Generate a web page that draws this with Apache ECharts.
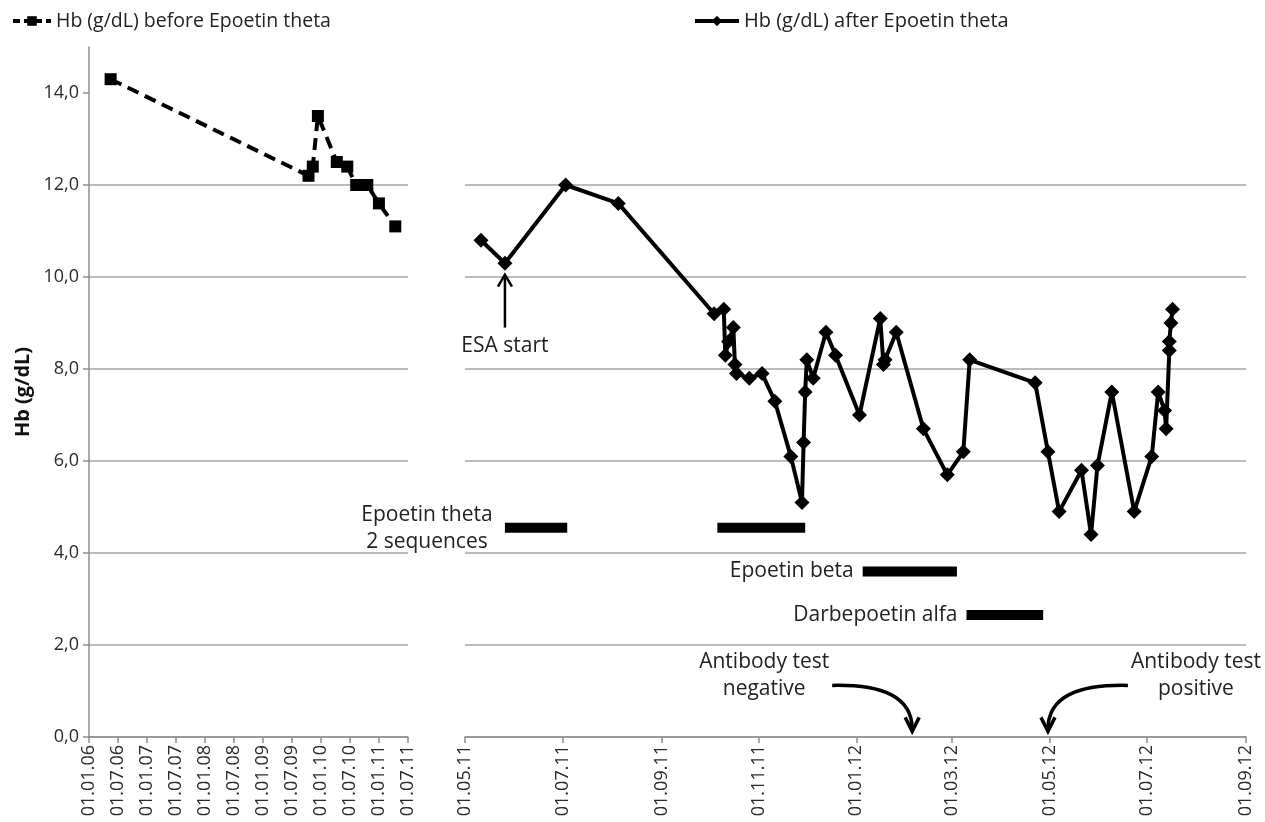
<!DOCTYPE html>
<html><head><meta charset="utf-8">
<script src="https://cdn.jsdelivr.net/npm/echarts@6/dist/echarts.min.js"></script>
<style>html,body{margin:0;padding:0;background:#fff}#c{width:1265px;height:822px}</style>
</head><body><div id="c"></div>
<script>
// ---- data ----
const beforeDates = ['2006-05-17','2009-10-13','2009-11-09','2009-12-11','2010-04-09','2010-06-14','2010-08-09','2010-10-18','2010-12-30','2011-04-12'];
const beforeHb = [14.3,12.2,12.4,13.5,12.5,12.4,12.0,12.0,11.6,11.1];

const afterDates = ['2011-05-11','2011-05-26','2011-07-03','2011-08-05','2011-10-04','2011-10-10','2011-10-11','2011-10-13','2011-10-16','2011-10-17',
  '2011-10-18','2011-10-26','2011-11-03','2011-11-11','2011-11-21','2011-11-28','2011-11-29','2011-11-30','2011-12-01','2011-12-05',
  '2011-12-13','2011-12-19','2012-01-03','2012-01-16','2012-01-18','2012-01-19','2012-01-26','2012-02-12','2012-02-27','2012-03-08',
  '2012-03-12','2012-04-22','2012-04-30','2012-05-07','2012-05-21','2012-05-27','2012-05-31','2012-06-09','2012-06-23','2012-07-04',
  '2012-07-08','2012-07-12','2012-07-13','2012-07-15','2012-07-15','2012-07-16','2012-07-17'];
const afterHb = [10.8,10.3,12.0,11.6,9.2,9.3,8.3,8.6,8.9,8.1,
  7.9,7.8,7.9,7.3,6.1,5.1,6.4,7.5,8.2,7.8,
  8.8,8.3,7.0,9.1,8.1,8.2,8.8,6.7,5.7,6.2,
  8.2,7.7,6.2,4.9,5.8,4.4,5.9,7.5,4.9,6.1,
  7.5,7.1,6.7,8.4,8.6,9.0,9.3];

const leftTicks = ['2006-01-01','2006-07-01','2007-01-01','2007-07-01','2008-01-01','2008-07-01','2009-01-01','2009-07-01','2010-01-01','2010-07-01','2011-01-01','2011-07-01'];
const rightTicks = ['2011-05-01','2011-07-01','2011-09-01','2011-11-01','2012-01-01','2012-03-01','2012-05-01','2012-07-01','2012-09-01'];
const yTicks = [0,2,4,6,8,10,12,14];

const treatLabels = ['Epoetin theta\n2 sequences','','Epoetin beta','Darbepoetin alfa'];
const treatStart = ['2011-05-26','2011-10-06','2012-01-05','2012-03-10'];
const treatEnd = ['2011-07-04','2011-11-30','2012-03-04','2012-04-27'];
const treatLevel = [4.55,4.55,3.6,2.65];

const esaDate = '2011-05-26';
const antibodyDates = ['2012-02-05','2012-04-30'];
const antibodyLabels = ['Antibody test\nnegative','Antibody test\npositive'];

const nameBefore = 'Hb (g/dL) before Epoetin theta';
const nameAfter = 'Hb (g/dL) after Epoetin theta';

// ---- helpers ----
function t(s){const p=s.split('-').map(Number);return Date.UTC(p[0],p[1]-1,p[2]);}
function pad(n){return (n<10?'0':'')+n;}
function fmtDate(v){const d=new Date(v);return pad(d.getUTCDate())+'.'+pad(d.getUTCMonth()+1)+'.'+String(d.getUTCFullYear()).slice(2);}
function fmtY(v){return v.toFixed(1).replace('.',',');}

const FONT = 'Open Sans';
const AX = '#8f8f8f';
const GRIDC = '#a6a6a6';

function xAxisCfg(grid, ticks){
  const vals = ticks.map(t);
  return {
    type:'value', gridIndex:grid, min:vals[0], max:vals[vals.length-1], scale:true,
    axisLine:{show:true,onZero:false,lineStyle:{color:AX,width:1.5}},
    axisTick:{show:true,customValues:vals,length:6,lineStyle:{color:AX,width:1.5}},
    axisLabel:{customValues:vals,rotate:90,formatter:fmtDate,fontSize:18,color:'#2a2a2a',fontFamily:FONT,margin:8,hideOverlap:false},
    splitLine:{show:false}
  };
}
function yAxisCfg(grid, showAxis){
  return {
    type:'value', gridIndex:grid, min:0, max:15, interval:2,
    axisLine:{show:showAxis,lineStyle:{color:AX,width:1.5}},
    axisTick:{show:showAxis,customValues:yTicks,length:6,inside:false,lineStyle:{color:AX,width:1.5}},
    axisLabel:{show:showAxis,customValues:yTicks,formatter:fmtY,fontSize:18,color:'#2a2a2a',fontFamily:FONT,margin:10},
    splitLine:{show:true,showMaxLine:false,lineStyle:{color:GRIDC,width:1.5}},
    name: showAxis ? 'Hb (g/dL)' : '',
    nameLocation:'middle', nameGap:56,
    nameTextStyle:{fontSize:20,fontWeight:'bold',color:'#111',fontFamily:FONT}
  };
}

const series = [
  {name:nameBefore,type:'line',xAxisIndex:0,yAxisIndex:0,
   data:beforeDates.map((d,i)=>[t(d),beforeHb[i]]),
   symbol:'rect',symbolSize:12,
   lineStyle:{color:'#000',width:4,type:[12,7]},itemStyle:{color:'#000'},z:3},
  {name:nameAfter,type:'line',xAxisIndex:1,yAxisIndex:1,
   data:afterDates.map((d,i)=>[t(d),afterHb[i]]),
   symbol:'diamond',symbolSize:[15,15],
   lineStyle:{color:'#000',width:4,join:'round'},itemStyle:{color:'#000'},z:3}
];
treatStart.forEach((s,i)=>{
  series.push({name:'treat'+i,type:'line',xAxisIndex:1,yAxisIndex:1,symbol:'none',
    data:[[t(s),treatLevel[i]],[t(treatEnd[i]),treatLevel[i]]],
    lineStyle:{color:'#000',width:10,cap:'butt'},silent:true,z:2});
});

const chart = echarts.init(document.getElementById('c'));
chart.setOption({
  animation:false,
  backgroundColor:'#fff',
  textStyle:{fontFamily:FONT},
  grid:[{left:89,right:857,top:47,bottom:85},{left:465,right:19,top:47,bottom:85}],
  legend:[
    {data:[nameBefore],left:6,top:6,itemWidth:38,itemHeight:12,itemGap:4,
     lineStyle:{width:4,type:[7,4]},textStyle:{fontSize:19.5,color:'#222',fontFamily:FONT}},
    {data:[nameAfter],left:688,top:6,itemWidth:44,itemHeight:13,itemGap:2,
     lineStyle:{width:4},textStyle:{fontSize:20,color:'#222',fontFamily:FONT}}
  ],
  xAxis:[xAxisCfg(0,leftTicks),xAxisCfg(1,rightTicks)],
  yAxis:[yAxisCfg(0,true),yAxisCfg(1,false)],
  series:series
});

// ---- annotations placed from data coordinates ----
function px(date,val){return chart.convertToPixel({gridIndex:1},[t(date),val]);}
const g = [];
const txt = {fill:'#222',fontSize:21,fontFamily:FONT,lineHeight:27};
const tip = px(esaDate,10.05), tail = px(esaDate,8.9), lab = px(esaDate,8.5);
g.push({type:'line',shape:{x1:tip[0],y1:tip[1]+1,x2:tail[0],y2:tail[1]},style:{stroke:'#000',lineWidth:2.5}});
g.push({type:'polyline',shape:{points:[[tip[0]-7,tip[1]+12],[tip[0],tip[1]],[tip[0]+7,tip[1]+12]]},style:{stroke:'#000',lineWidth:2.5,fill:null}});
g.push({type:'text',x:lab[0],y:lab[1],style:Object.assign({text:'ESA start',align:'center',verticalAlign:'middle'},txt)});
treatLabels.forEach((l,i)=>{
  if(!l) return;
  const p = px(treatStart[i],treatLevel[i]);
  if(i===0){
    g.push({type:'text',x:p[0]-78,y:p[1]+1,style:Object.assign({text:l,align:'center',verticalAlign:'middle'},txt)});
  } else {
    g.push({type:'text',x:p[0]-9,y:p[1],style:Object.assign({text:l,align:'right',verticalAlign:'middle'},txt)});
  }
});
antibodyDates.forEach((d,i)=>{
  const p = px(d,0.1);
  const s = i===0 ? -1 : 1;
  const x0=p[0], y0=p[1];
  g.push({type:'bezierCurve',shape:{x1:x0+s*80,y1:y0-47,cpx1:x0+s*30,cpy1:y0-48,cpx2:x0,cpy2:y0-36,x2:x0,y2:y0-3},style:{stroke:'#000',lineWidth:3.5,fill:null}});
  g.push({type:'polyline',shape:{points:[[x0-7,y0-15],[x0,y0-1],[x0+7,y0-15]]},style:{stroke:'#000',lineWidth:3.5,fill:null}});
  g.push({type:'text',x:x0+s*148,y:y0-57,style:Object.assign({text:antibodyLabels[i],align:'center',verticalAlign:'middle'},txt)});
});
chart.setOption({graphic:g});
</script>
</body></html>
